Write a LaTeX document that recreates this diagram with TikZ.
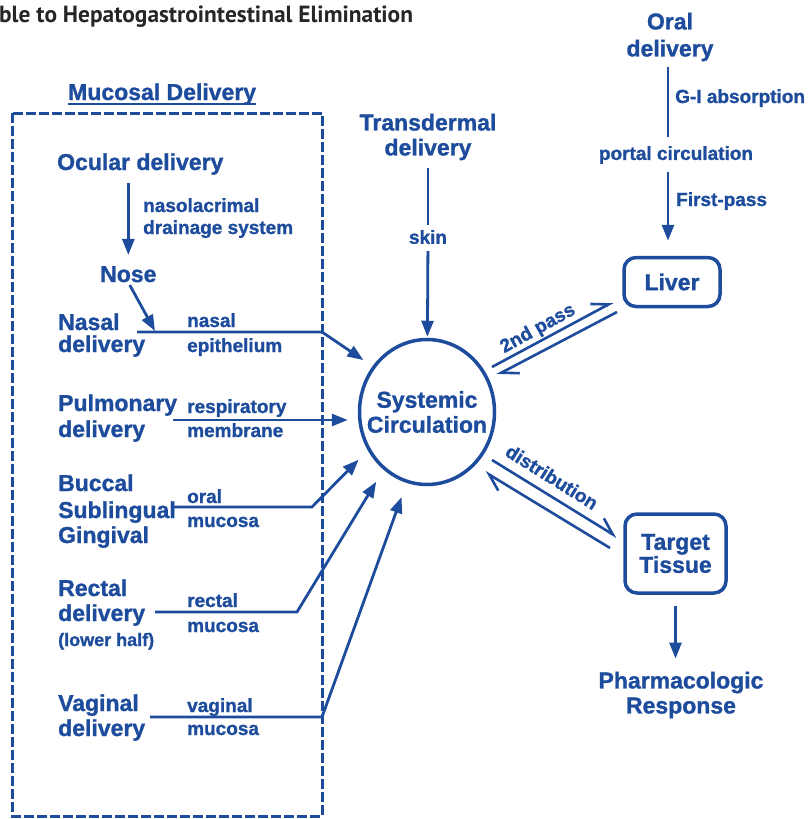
\documentclass[tikz,border=0pt]{standalone}
\usepackage{fontspec}
\setmainfont{Liberation Sans}[BoldFeatures={FakeBold=1.2}]
\newfontfamily\titlefont{PT Sans}
\usetikzlibrary{arrows.meta,shapes.geometric}
\definecolor{dblue}{RGB}{30,76,156}
\definecolor{tgray}{RGB}{38,38,38}
\begin{document}
\begin{tikzpicture}[x=1pt,y=-1pt,
  lbl/.style={text=dblue,font=\bfseries\fontsize{23}{25}\selectfont,inner sep=0pt,anchor=base west},
  sml/.style={text=dblue,font=\bfseries\fontsize{19}{22}\selectfont,inner sep=0pt,anchor=base west},
  ctr/.style={text=dblue,font=\bfseries\fontsize{23}{25}\selectfont,inner sep=0pt,align=center},
  conn/.style={draw=dblue,line width=2.8pt,line join=miter},
  arr/.style={conn,-{Triangle[length=16pt,width=12pt]}},
  harp/.style={draw=dblue,line width=2.6pt,-{Straight Barb[left,length=16pt,width=18pt]}},
  box/.style={draw=dblue,line width=3.5pt,rounded corners=12pt}
]
\useasboundingbox (0,0) rectangle (811,819);

% title
\node[anchor=base west,inner sep=0pt,text=tgray,font=\titlefont\bfseries\fontsize{23.4}{26}\selectfont] (title) at (-1,23) {ble to Hepatogastrointestinal Elimination};

% mucosal delivery box
\node[lbl] (md) at (68,100) {Mucosal Delivery};
\draw[dblue,line width=2pt] ([yshift=-4pt]md.base west) -- ([yshift=-4pt]md.base east);
\draw[dblue,line width=3pt,dash pattern=on 10pt off 3pt] (12,113) rectangle (322,816);

% left labels
\node[lbl] (ocular) at (57,170) {Ocular delivery};
\node[sml] (nasolac) at (143,212) {nasolacrimal};
\node[sml] (drain) at (143,234) {drainage system};
\node[lbl] (nose) at (100,282) {Nose};
\node[lbl] (nasal1) at (58,330) {Nasal};
\node[lbl] (nasal2) at (58,352) {delivery};
\node[sml] (nasalm1) at (187,327) {nasal};
\node[sml] (nasalm2) at (187,352) {epithelium};
\node[lbl] (pulm1) at (58,411) {Pulmonary};
\node[lbl] (pulm2) at (58,437) {delivery};
\node[sml] (resp1) at (187,413) {respiratory};
\node[sml] (resp2) at (187,437) {membrane};
\node[lbl] (bucc1) at (58,491) {Buccal};
\node[lbl] (bucc2) at (58,518) {Sublingual};
\node[lbl] (bucc3) at (58,543) {Gingival};
\node[sml] (oral1) at (187,503) {oral};
\node[sml] (oral2) at (187,527) {mucosa};
\node[lbl] (rect1) at (58,596) {Rectal};
\node[lbl] (rect2) at (58,621) {delivery};
\node[sml,font=\bfseries\fontsize{18}{22}\selectfont] (rect3) at (58,646) {(lower half)};
\node[sml] (rectm1) at (187,607) {rectal};
\node[sml] (rectm2) at (187,632) {mucosa};
\node[lbl] (vag1) at (58,711) {Vaginal};
\node[lbl] (vag2) at (58,736) {delivery};
\node[sml] (vagm1) at (187,712) {vaginal};
\node[sml] (vagm2) at (187,735) {mucosa};

% systemic circulation
\node[ellipse,draw=dblue,line width=3.5pt,inner sep=0pt,minimum width=135pt,minimum height=145pt] (sc) at (427,412) {};
\node[ctr] (sctext) at (sc.center) {Systemic\\Circulation};

% transdermal
\node[ctr] (td) at (428,137) {Transdermal\\delivery};
\node[sml,anchor=center] (skin) at (428,237) {skin};
\draw[conn,shorten <=8pt,shorten >=5pt] (td) -- (skin);
\draw[arr,shorten <=7pt,shorten >=1pt] (skin) -- (sc);

% oral route
\node[ctr,font=\bfseries\fontsize{23}{27}\selectfont] (od) at (670,37) {Oral\\delivery};
\node[sml] (gi) at (675,103) {G-I absorption};
\node[sml,anchor=center] (pc) at (676,155) {portal circulation};
\node[sml] (fp) at (676,206) {First-pass};
\node[ctr,box,minimum width=96pt,minimum height=49pt] (liver) at (672,282) {Liver};
\draw[conn,shorten <=6pt,shorten >=9pt] ([xshift=-2pt]od.south) -- ([xshift=-2pt]od.south |- pc.north);
\draw[arr,shorten <=8pt,shorten >=15pt] ([xshift=-2pt]od.south |- pc.south) -- ([xshift=-2pt]od.south |- liver.north);

% target tissue
\node[ctr,box,minimum width=101pt,minimum height=79pt,font=\bfseries\fontsize{23}{23}\selectfont] (tt) at (675.5,553.5) {Target\\Tissue};
\node[ctr] (pr) at (681,695) {Pharmacologic\\Response};
\draw[arr,shorten <=11pt,shorten >=13pt] (tt.south) -- (tt.south |- pr.north);

% 2nd pass harpoons
\coordinate (p2a) at (492,367);
\coordinate (p2b) at (613,302);
\coordinate (p2c) at (617,312);
\coordinate (p2d) at (497,375);
\draw[harp] (p2a) -- (p2b);
\draw[harp] (p2c) -- (p2d);
\node[sml,anchor=center,rotate=29] (snd) at (538,329) {2nd pass};

% distribution harpoons
\coordinate (d1a) at (492,460);
\coordinate (d1b) at (617,537);
\coordinate (d2a) at (610,548);
\coordinate (d2b) at (485,472);
\draw[harp] (d1a) -- (d1b);
\draw[harp] (d2a) -- (d2b);
\node[sml,anchor=center,rotate=-32] (dist) at (552,477) {distribution};

% mucosal arrows
\coordinate (nasalS) at (137,332);
\coordinate (nasalT) at (155,331);
\coordinate (nasalK) at (322,332);
\coordinate (pulmS) at (173,420);
\coordinate (oralS) at (173,507);
\coordinate (oralK) at (312,507);
\coordinate (rectS) at (155,612);
\coordinate (rectK) at (297,612);
\coordinate (vagS) at (150,717);
\coordinate (vagK) at (322,717);

\draw[arr,shorten >=11pt,shorten <=13pt] (ocular.base -| nose.north) -- (nose.north);
\draw[arr,shorten <=3pt] (nose.south) -- (nasalT);
\draw[arr,shorten >=11pt] (nasalS) -- (nasalK) -- (sc.140);
\draw[arr,shorten >=10pt] (pulmS) -- (pulmS -| sc.west);
\draw[arr,shorten >=13pt] (oralS) -- (oralK) -- (sc.213);
\draw[arr,shorten >=14pt] (rectS) -- (rectK) -- (sc.233);
\draw[arr,shorten >=15pt] (vagS) -- (vagK) -- (sc.254);
\end{tikzpicture}
\end{document}
